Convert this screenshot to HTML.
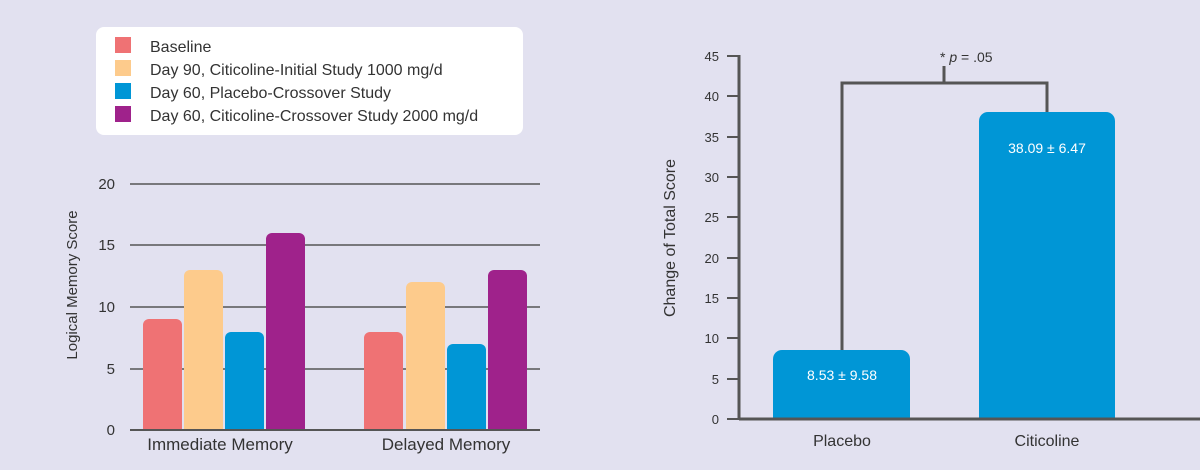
<!DOCTYPE html>
<html><head><style>body{margin:0;background:#e2e1f0;}</style></head><body>
<svg width="1200" height="465" xmlns="http://www.w3.org/2000/svg" font-family="Liberation Sans, sans-serif">
<rect width="1200" height="465" fill="#e2e1f0"/>
<rect x="96" y="27" width="427" height="108" rx="8" fill="#fff"/>
<rect x="115" y="37" width="16" height="16" fill="#ef7274"/>
<rect x="115" y="60" width="16" height="16" fill="#fdcb8c"/>
<rect x="115" y="83" width="16" height="16" fill="#0096d6"/>
<rect x="115" y="106" width="16" height="16" fill="#9f228b"/>
<g font-size="16" fill="#333">
<text x="150" y="52">Baseline</text>
<text x="150" y="75">Day 90, Citicoline-Initial Study 1000 mg/d</text>
<text x="150" y="98">Day 60, Placebo-Crossover Study</text>
<text x="150" y="121">Day 60, Citicoline-Crossover Study 2000 mg/d</text>
</g>
<g stroke="#555" stroke-width="1.5">
<line x1="130" y1="184" x2="540" y2="184"/><line x1="130" y1="245" x2="540" y2="245"/>
<line x1="130" y1="307" x2="540" y2="307"/><line x1="130" y1="369" x2="540" y2="369"/>
</g>
<g font-size="15" fill="#333" text-anchor="end">
<text x="115" y="189">20</text><text x="115" y="250">15</text><text x="115" y="312">10</text>
<text x="115" y="374">5</text><text x="115" y="435">0</text>
</g>
<text transform="translate(77,285) rotate(-90)" font-size="15" fill="#333" text-anchor="middle">Logical Memory Score</text>
<g>
<path d="M143 430 V325 a6 6 0 0 1 6 -6 H176 a6 6 0 0 1 6 6 V430Z" fill="#ef7274"/>
<path d="M184 430 V276 a6 6 0 0 1 6 -6 H217 a6 6 0 0 1 6 6 V430Z" fill="#fdcb8c"/>
<path d="M225 430 V338 a6 6 0 0 1 6 -6 H258 a6 6 0 0 1 6 6 V430Z" fill="#0096d6"/>
<path d="M266 430 V239 a6 6 0 0 1 6 -6 H299 a6 6 0 0 1 6 6 V430Z" fill="#9f228b"/>
<path d="M364 430 V338 a6 6 0 0 1 6 -6 H397 a6 6 0 0 1 6 6 V430Z" fill="#ef7274"/>
<path d="M406 430 V288 a6 6 0 0 1 6 -6 H439 a6 6 0 0 1 6 6 V430Z" fill="#fdcb8c"/>
<path d="M447 430 V350 a6 6 0 0 1 6 -6 H480 a6 6 0 0 1 6 6 V430Z" fill="#0096d6"/>
<path d="M488 430 V276 a6 6 0 0 1 6 -6 H521 a6 6 0 0 1 6 6 V430Z" fill="#9f228b"/>
</g>
<line x1="130" y1="430" x2="540" y2="430" stroke="#555" stroke-width="2"/>
<g font-size="17" fill="#333" text-anchor="middle">
<text x="220" y="450">Immediate Memory</text><text x="446" y="450">Delayed Memory</text>
</g>
<!-- right chart -->
<g stroke="#555" stroke-width="3" fill="none">
<line x1="739" y1="55" x2="739" y2="420"/>
<path d="M842 350 V83 H1047 V112 M944 83 V66"/>
</g>
<g stroke="#555" stroke-width="2">
<line x1="727" y1="56" x2="739" y2="56"/><line x1="727" y1="96" x2="739" y2="96"/>
<line x1="727" y1="137" x2="739" y2="137"/><line x1="727" y1="177" x2="739" y2="177"/>
<line x1="727" y1="217" x2="739" y2="217"/><line x1="727" y1="258" x2="739" y2="258"/>
<line x1="727" y1="298" x2="739" y2="298"/><line x1="727" y1="338" x2="739" y2="338"/>
<line x1="727" y1="379" x2="739" y2="379"/><line x1="727" y1="419" x2="739" y2="419"/>
</g>
<g font-size="13" fill="#333" text-anchor="end">
<text x="719" y="61">45</text><text x="719" y="101">40</text><text x="719" y="142">35</text>
<text x="719" y="182">30</text><text x="719" y="222">25</text><text x="719" y="263">20</text>
<text x="719" y="303">15</text><text x="719" y="343">10</text><text x="719" y="384">5</text>
<text x="719" y="424">0</text>
</g>
<text transform="translate(675,238) rotate(-90)" font-size="16" fill="#333" text-anchor="middle">Change of Total Score</text>
<path d="M773 419 V359 a9 9 0 0 1 9 -9 H901 a9 9 0 0 1 9 9 V419Z" fill="#0096d6"/>
<path d="M979 419 V121 a9 9 0 0 1 9 -9 H1106 a9 9 0 0 1 9 9 V419Z" fill="#0096d6"/>
<line x1="739" y1="419" x2="1200" y2="419" stroke="#555" stroke-width="3"/>
<g font-size="14" fill="#fff" text-anchor="middle">
<text x="842" y="380">8.53 ± 9.58</text><text x="1047" y="153">38.09 ± 6.47</text>
</g>
<text x="940" y="62" font-size="14" fill="#333">* <tspan font-style="italic">p</tspan> = .05</text>
<g font-size="16" fill="#333" text-anchor="middle">
<text x="842" y="446">Placebo</text><text x="1047" y="446">Citicoline</text>
</g>
</svg>
</body></html>
